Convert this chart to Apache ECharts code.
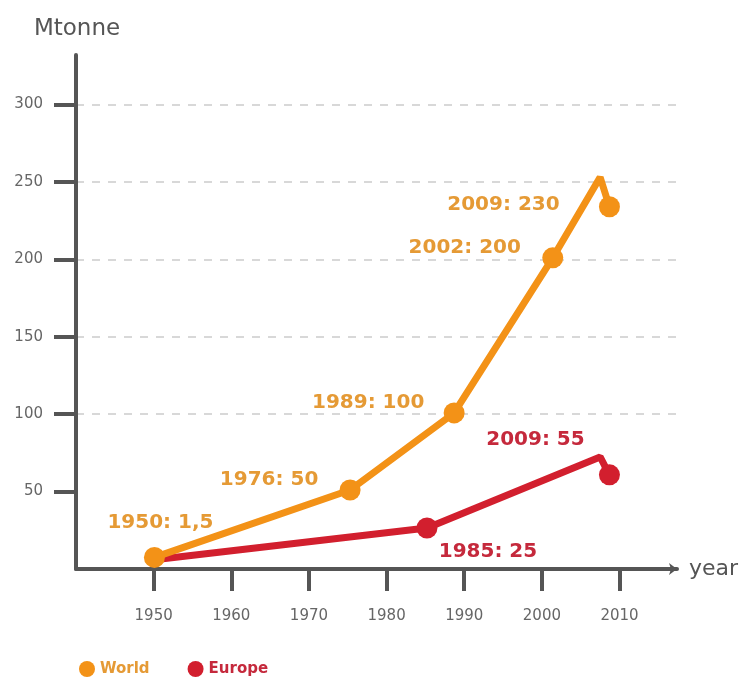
<!DOCTYPE html>
<html>
<head>
<meta charset="utf-8">
<script src="https://cdn.jsdelivr.net/npm/echarts@6/dist/echarts.min.js"></script>
<style>html,body{margin:0;padding:0;background:#fff}#c{width:744px;height:678px}</style>
</head>
<body>
<div id="c"></div>
<script>
const worldYears = [1950.1, 1975.3, 1988.7, 2001.4, 2007.5, 2008.7];
const worldValues = [7.5, 51, 100.8, 201, 253, 234];
const worldLabels = ['1950: 1,5', '1976: 50', '1989: 100', '2002: 200', '', '2009: 230'];
const europeYears = [1950.1, 1985.2, 2007.5, 2008.7];
const europeValues = [6, 26.5, 72.4, 60.8];
const europeLabels = ['', '1985: 25', '', '2009: 55'];
const xTicks = [1950, 1960, 1970, 1980, 1990, 2000, 2010];
const yTicks = [50, 100, 150, 200, 250, 300];

const ORANGE = '#F39217', RED = '#D21F2E';
const ORANGE_TXT = '#E59A35', RED_TXT = '#C5293C';

const worldOffsets = [[6, -35], [-81, -10], [-86, -10], [-88, -10], null, [-106, -2]];
const europeOffsets = [null, [61, 24], null, [-74, -35]];

function build(years, values, labels, offsets, txtColor, showFirst) {
  return years.map((x, i) => {
    const item = { value: [x, values[i]] };
    if (!labels[i] && !(i === 0 && showFirst)) item.symbol = 'none';
    if (labels[i]) {
      item.label = {
        show: true, position: 'inside', formatter: labels[i],
        offset: offsets[i], color: txtColor,
        fontFamily: 'DejaVu Sans', fontWeight: 'bold', fontSize: 20
      };
    }
    return item;
  });
}

const chart = echarts.init(document.getElementById('c'));
const axisColor = '#555';
chart.setOption({
  animation: false,
  grid: { left: 76, right: 67, top: 55, bottom: 109 },
  legend: {
    left: 74, top: 656, icon: 'circle', itemWidth: 16, itemHeight: 16, itemGap: 38,
    textStyle: { fontFamily: 'DejaVu Sans', fontWeight: 'bold', fontSize: 15 },
    data: [
      { name: 'World', textStyle: { color: ORANGE_TXT } },
      { name: 'Europe', textStyle: { color: RED_TXT } }
    ]
  },
  xAxis: {
    type: 'value', min: 1940, max: 2017.4, interval: 10,
    name: 'year', nameLocation: 'end', nameGap: 12,
    nameTextStyle: { color: axisColor, fontFamily: 'DejaVu Sans', fontSize: 22, verticalAlign: 'middle', padding: [0, 0, 4, 0] },
    axisLine: { show: true, symbol: ['none', 'arrow'], symbolSize: [9, 8], lineStyle: { color: axisColor, width: 4 } },
    axisTick: { show: true, customValues: xTicks, length: 22, lineStyle: { color: axisColor, width: 4 } },
    axisLabel: { customValues: xTicks, margin: 40, color: '#666', fontFamily: 'DejaVu Sans', fontSize: 15, formatter: v => String(v) },
    splitLine: { show: false }
  },
  yAxis: {
    type: 'value', min: 0, max: 332, interval: 50,
    name: 'Mtonne', nameLocation: 'end', nameGap: 14,
    nameTextStyle: { color: axisColor, fontFamily: 'DejaVu Sans', fontSize: 23, align: 'center', padding: [0, 0, 0, 2] },
    axisLine: { show: true, lineStyle: { color: axisColor, width: 4 } },
    axisTick: { show: true, customValues: yTicks, length: 22, lineStyle: { color: axisColor, width: 4 } },
    axisLabel: { customValues: yTicks, margin: 33, color: '#666', fontFamily: 'DejaVu Sans', fontSize: 15, formatter: v => String(v) },
    splitLine: { show: true, showMinLine: false, lineStyle: { color: '#ccc', width: 1.5, type: [8, 8] } }
  },
  series: [
    {
      name: 'World', type: 'line', z: 3, symbol: 'circle', symbolSize: 21,
      itemStyle: { color: ORANGE }, lineStyle: { color: ORANGE, width: 7 },
      data: build(worldYears, worldValues, worldLabels, worldOffsets, ORANGE_TXT, true)
    },
    {
      name: 'Europe', type: 'line', z: 2, symbol: 'circle', symbolSize: 21,
      itemStyle: { color: RED }, lineStyle: { color: RED, width: 7 },
      data: build(europeYears, europeValues, europeLabels, europeOffsets, RED_TXT, false)
    }
  ]
});
</script>
</body>
</html>
